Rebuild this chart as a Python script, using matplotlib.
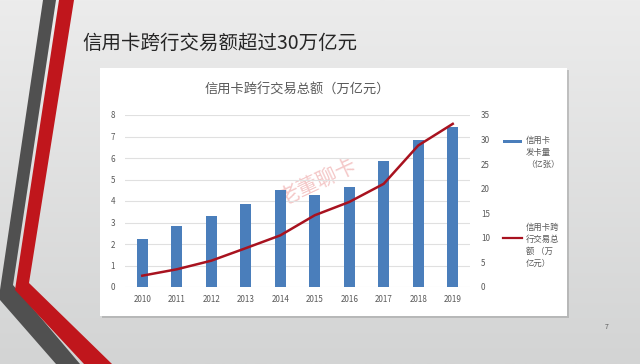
import numpy as np
import matplotlib
matplotlib.use("Agg")
from matplotlib import pyplot as plt
from matplotlib.patches import Polygon, Rectangle
from matplotlib.lines import Line2D

plt.rcParams['font.family'] = ['Noto Sans CJK SC', 'DejaVu Sans']

years = ['2010', '2011', '2012', '2013', '2014', '2015', '2016', '2017', '2018', '2019']
cards = [2.24, 2.83, 3.28, 3.87, 4.52, 4.27, 4.63, 5.84, 6.83, 7.43]   # 亿张
volume = [2.3, 3.6, 5.35, 7.9, 10.5, 14.6, 17.3, 21.0, 28.8, 33.2]     # 万亿元

bar_color = '#4a7ebb'
line_color = '#a8121f'
text_gray = '#595959'

fig = plt.figure(figsize=(6.4, 3.64), dpi=100)

# slide background, pixel coordinates
bg = fig.add_axes([0, 0, 1, 1])
bg.set_xlim(0, 640)
bg.set_ylim(364, 0)
bg.axis('off')
grad = np.linspace(0, 1, 256).reshape(-1, 1)
bg.imshow(grad, cmap=matplotlib.colors.LinearSegmentedColormap.from_list('g', ['#ececec', '#d3d4d4']),
          extent=[0, 640, 364, 0], aspect='auto')

# decorative stripes
bg.add_patch(Polygon([(43, 0), (56, 0), (13, 285), (80, 364), (56, 364), (0, 300), (0, 290)],
                     closed=True, color='#505050', lw=0))
bg.add_patch(Polygon([(59, 0), (74, 0), (29, 283), (112, 364), (84, 364), (15, 290)],
                     closed=True, color='#c0161c', lw=0))

# white chart panel with a soft shadow
bg.add_patch(Rectangle((102, 70), 467, 248, color='#9a9a9a', alpha=0.5, lw=0))
bg.add_patch(Rectangle((100, 68), 467, 248, color='white', lw=0))

bg.text(82, 43, '信用卡跨行交易额超过30万亿元', fontsize=14, color='#262626', va='center')
bg.text(607, 327, '7', fontsize=5, color=text_gray, ha='center', va='center')

# legend drawn by hand on the right of the panel
bg.add_patch(Rectangle((503, 139.5), 19, 3.5, color=bar_color, lw=0))
bg.text(526, 136, '信用卡\n发卡量\n（亿张）', fontsize=6, color=text_gray, va='top', linespacing=1.4)
bg.add_line(Line2D([503, 522], [238, 238], color=line_color, lw=1.6))
bg.text(526, 223, '信用卡跨\n行交易总\n额 （万\n亿元）', fontsize=6, color=text_gray, va='top', linespacing=1.4)

# watermark
bg.text(318, 182, '老董聊卡', fontsize=15, color='#e06060', alpha=0.35, rotation=25,
        ha='center', va='center')

# chart
ax = fig.add_axes([125 / 640, 1 - 287 / 364, 345 / 640, 172 / 364])
ax.patch.set_alpha(0)
x = np.arange(len(years))
ax.bar(x, cards, width=0.33, color=bar_color, zorder=2)
ax.set_xlim(-0.5, len(years) - 0.5)
ax.set_ylim(0, 8)
ax.set_yticks(range(0, 9))
ax.set_xticks(x)
ax.set_xticklabels(years)
ax.grid(axis='y', color='#e0e0e0', lw=0.8, zorder=0)
for s in ax.spines.values():
    s.set_visible(False)
ax.tick_params(axis='both', length=0, labelsize=5.8, labelcolor=text_gray)
ax.tick_params(axis='x', pad=6)
ax.tick_params(axis='y', pad=7)

ax2 = ax.twinx()
ax2.plot(x, volume, color=line_color, lw=1.8, zorder=3)
ax2.set_ylim(0, 35)
ax2.set_yticks(range(0, 36, 5))
for s in ax2.spines.values():
    s.set_visible(False)
ax2.tick_params(axis='y', length=0, labelsize=5.8, labelcolor=text_gray, pad=8)

ax.set_title('信用卡跨行交易总额（万亿元）', fontsize=9.5, color=text_gray, pad=15)

fig.savefig('out.png', dpi=100)
